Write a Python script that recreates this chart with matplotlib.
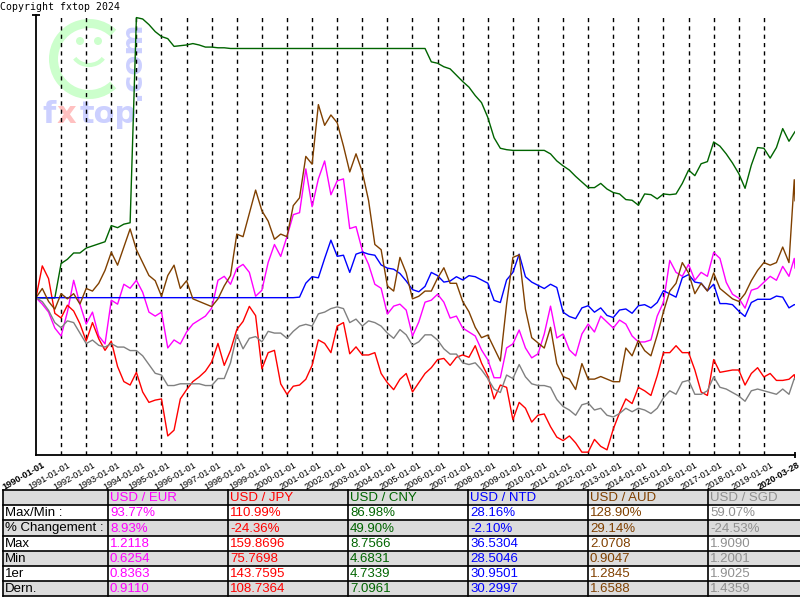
import numpy as np
import matplotlib
matplotlib.use("Agg")
import matplotlib.pyplot as plt
from matplotlib.patches import Rectangle, Arc, Circle

# quarterly points 1990-01-01 .. 2020-01-01, then mid-March 2020 and 2020-03-28
dates = list(np.arange(1990, 2020.01, 0.25)) + [2020.21, 2020.24]

usd_eur = [
    0.8363, 0.820, 0.800, 0.760,
    0.740, 0.800, 0.880, 0.820,
    0.770, 0.800, 0.740, 0.720,
    0.830, 0.820, 0.870, 0.860,
    0.880, 0.850, 0.800, 0.790,
    0.800, 0.710, 0.730, 0.720,
    0.750, 0.770, 0.780, 0.790,
    0.810, 0.880, 0.890, 0.870,
    0.910, 0.920, 0.900, 0.840,
    0.855, 0.925, 0.970, 0.940,
    0.990, 1.045, 1.050, 1.160,
    1.065, 1.135, 1.180, 1.095,
    1.130, 1.135, 1.010, 1.015,
    0.955, 0.920, 0.870, 0.860,
    0.795, 0.815, 0.820, 0.805,
    0.740, 0.775, 0.825, 0.830,
    0.845, 0.825, 0.785, 0.790,
    0.760, 0.750, 0.740, 0.705,
    0.680, 0.635, 0.635, 0.710,
    0.720, 0.755, 0.710, 0.685,
    0.695, 0.745, 0.815, 0.735,
    0.745, 0.705, 0.690, 0.745,
    0.770, 0.750, 0.790, 0.775,
    0.760, 0.780, 0.770, 0.740,
    0.725, 0.725, 0.730, 0.790,
    0.825, 0.930, 0.900, 0.890,
    0.920, 0.880, 0.900, 0.890,
    0.950, 0.935, 0.875, 0.845,
    0.835, 0.810, 0.855, 0.860,
    0.875, 0.890, 0.880, 0.915,
    0.890, 0.935, 0.9110,
]

usd_jpy = [
    143.7595, 157.5, 152.0, 137.0,
    135.0, 140.5, 138.0, 132.5,
    125.0, 133.0, 126.0, 121.0,
    125.0, 114.0, 107.5, 106.0,
    111.5, 103.0, 98.5, 99.5,
    100.0, 84.0, 86.5, 100.0,
    104.0, 107.5, 109.5, 112.0,
    116.0, 124.0, 114.5, 121.0,
    130.0, 133.5, 140.0, 136.0,
    113.0, 120.0, 121.0, 106.5,
    102.0, 105.5, 106.0, 108.5,
    114.5, 125.5, 124.0, 120.0,
    131.5, 133.0, 119.5, 122.5,
    119.0, 119.0, 120.0, 111.0,
    107.0, 104.0, 108.5, 111.0,
    103.0, 107.0, 111.0, 113.5,
    117.0, 117.5, 114.5, 118.0,
    119.0, 118.0, 123.0, 115.5,
    110.0, 100.0, 106.0, 105.0,
    91.0, 98.5, 96.0, 90.0,
    93.0, 93.5, 88.0, 83.5,
    82.0, 84.0, 81.0, 77.0,
    77.0, 82.5, 79.5, 78.0,
    87.0, 94.0, 100.0, 98.0,
    105.0, 103.5, 101.5, 110.0,
    120.0, 120.0, 123.0, 120.0,
    120.0, 112.5, 103.0, 101.5,
    117.0, 111.5, 112.0, 112.5,
    112.5, 106.0, 111.0, 113.5,
    109.5, 111.0, 108.0, 108.0,
    108.5, 110.5, 108.7364,
]

usd_cny = [
    4.7339, 4.73, 4.73, 4.73,
    5.22, 5.28, 5.37, 5.37,
    5.44, 5.47, 5.50, 5.53,
    5.76, 5.73, 5.78, 5.80,
    8.72, 8.70, 8.62, 8.52,
    8.45, 8.42, 8.31, 8.32,
    8.33, 8.35, 8.33, 8.30,
    8.30, 8.29, 8.29, 8.28,
    8.28, 8.28, 8.28, 8.28,
    8.28, 8.28, 8.28, 8.28,
    8.28, 8.28, 8.28, 8.28,
    8.28, 8.28, 8.28, 8.28,
    8.28, 8.28, 8.28, 8.28,
    8.28, 8.28, 8.28, 8.28,
    8.28, 8.28, 8.28, 8.28,
    8.28, 8.28, 8.28, 8.09,
    8.07, 8.02, 7.99, 7.90,
    7.81, 7.73, 7.61, 7.51,
    7.30, 7.01, 6.86, 6.84,
    6.83, 6.83, 6.83, 6.83,
    6.83, 6.83, 6.78, 6.68,
    6.61, 6.55, 6.46, 6.38,
    6.30, 6.30, 6.36, 6.28,
    6.23, 6.21, 6.13, 6.12,
    6.05, 6.21, 6.20, 6.14,
    6.21, 6.20, 6.21, 6.36,
    6.55, 6.47, 6.64, 6.67,
    6.95, 6.89, 6.78, 6.65,
    6.50, 6.29, 6.62, 6.87,
    6.86, 6.72, 6.87, 7.14,
    6.96, 7.08, 7.0961,
]

# no NTD quotes before mid-2000: the chart holds the first value
usd_ntd = [
    30.9501, 30.95, 30.95, 30.95,
    30.95, 30.95, 30.95, 30.95,
    30.95, 30.95, 30.95, 30.95,
    30.95, 30.95, 30.95, 30.95,
    30.95, 30.95, 30.95, 30.95,
    30.95, 30.95, 30.95, 30.95,
    30.95, 30.95, 30.95, 30.95,
    30.95, 30.95, 30.95, 30.95,
    30.95, 30.95, 30.95, 30.95,
    30.95, 30.95, 30.95, 30.95,
    30.95, 30.95, 31.0, 32.3,
    32.9, 32.8, 34.6, 36.3,
    34.8, 34.9, 33.3, 35.0,
    35.2, 35.0, 34.9, 34.0,
    33.7, 33.6, 33.2, 32.5,
    31.7, 31.5, 32.0, 33.3,
    33.0, 32.4, 32.5, 32.9,
    32.6, 33.0, 32.9, 32.6,
    32.3, 30.7, 30.5, 32.6,
    33.3, 35.0, 32.9, 32.4,
    32.1, 31.8, 32.2, 31.9,
    29.6, 29.2, 29.0, 30.0,
    30.2, 29.6, 30.0, 29.3,
    29.1, 29.8, 29.9, 29.5,
    30.2, 30.3, 30.0, 30.5,
    31.6, 31.3, 31.0, 32.8,
    33.1, 32.4, 32.3, 31.6,
    32.2, 30.4, 30.4, 30.3,
    29.7, 29.2, 30.5, 30.8,
    30.8, 30.8, 31.1, 31.0,
    30.0, 30.3, 30.2997,
]

usd_aud = [
    1.2845, 1.32, 1.27, 1.24,
    1.30, 1.28, 1.30, 1.26,
    1.32, 1.31, 1.34, 1.39,
    1.46, 1.41, 1.48, 1.55,
    1.47, 1.42, 1.37, 1.35,
    1.29, 1.37, 1.41, 1.32,
    1.35, 1.28, 1.27, 1.26,
    1.25, 1.28, 1.33, 1.37,
    1.53, 1.52, 1.61, 1.70,
    1.62, 1.58, 1.51, 1.53,
    1.52, 1.64, 1.67, 1.83,
    1.80, 2.03, 1.95, 1.99,
    1.96, 1.87, 1.77, 1.84,
    1.77, 1.66, 1.49, 1.47,
    1.33, 1.31, 1.44, 1.38,
    1.28, 1.29, 1.31, 1.31,
    1.36, 1.40, 1.34, 1.34,
    1.27, 1.23, 1.17, 1.13,
    1.14, 1.09, 1.04, 1.26,
    1.44, 1.45, 1.24, 1.13,
    1.11, 1.09, 1.17, 1.03,
    0.98, 0.97, 0.93, 1.03,
    0.97, 0.97, 0.98, 0.97,
    0.96, 0.96, 1.09, 1.06,
    1.12, 1.08, 1.06, 1.14,
    1.23, 1.31, 1.34, 1.42,
    1.38, 1.30, 1.34, 1.31,
    1.38, 1.32, 1.30, 1.28,
    1.27, 1.30, 1.35, 1.39,
    1.42, 1.41, 1.42, 1.48,
    1.42, 1.74, 1.6588,
]

usd_sgd = [
    1.9025, 1.88, 1.83, 1.76,
    1.73, 1.77, 1.76, 1.70,
    1.64, 1.66, 1.63, 1.62,
    1.64, 1.62, 1.62, 1.60,
    1.60, 1.57, 1.52, 1.47,
    1.46, 1.40, 1.40, 1.41,
    1.41, 1.41, 1.41, 1.40,
    1.40, 1.44, 1.44, 1.53,
    1.69, 1.61, 1.67, 1.68,
    1.65, 1.71, 1.70, 1.70,
    1.67, 1.71, 1.74, 1.75,
    1.74, 1.81, 1.82, 1.84,
    1.85, 1.84, 1.76, 1.78,
    1.74, 1.77, 1.76, 1.74,
    1.70, 1.67, 1.72, 1.69,
    1.63, 1.65, 1.69, 1.69,
    1.66, 1.61, 1.58, 1.58,
    1.53, 1.52, 1.53, 1.49,
    1.44, 1.38, 1.36, 1.46,
    1.44, 1.52, 1.45, 1.41,
    1.40, 1.40, 1.39, 1.32,
    1.28, 1.26, 1.23, 1.29,
    1.30, 1.26, 1.27, 1.23,
    1.22, 1.24, 1.27, 1.25,
    1.27, 1.26, 1.24, 1.27,
    1.33, 1.37, 1.35, 1.42,
    1.43, 1.35, 1.35, 1.37,
    1.45, 1.39, 1.38, 1.36,
    1.34, 1.31, 1.37, 1.38,
    1.37, 1.36, 1.35, 1.38,
    1.35, 1.44, 1.4359,
]

pairs = ["USD / EUR", "USD / JPY", "USD / CNY", "USD / NTD", "USD / AUD", "USD / SGD"]
colors = ["#ff00ff", "#ff0000", "#006400", "#0000ff", "#804000", "#808080"]
text_colors = ["#ff00ff", "#ff0000", "#006400", "#0000ff", "#804000", "#909090"]
max_min_pct = [93.77, 110.99, 86.98, 28.16, 128.90, 59.07]
change_pct = [8.93, -24.36, 49.90, -2.10, 29.14, -24.53]
max_vals = [1.2118, 159.8696, 8.7566, 36.5304, 2.0708, 1.9090]
min_vals = [0.6254, 75.7698, 4.6831, 28.5046, 0.9047, 1.2001]
first_vals = [0.8363, 143.7595, 4.7339, 30.9501, 1.2845, 1.9025]
last_vals = [0.9110, 108.7364, 7.0961, 30.2997, 1.6588, 1.4359]

series = [usd_eur, usd_jpy, usd_cny, usd_ntd, usd_aud, usd_sgd]
years = list(range(1990, 2020))
tick_labels = [f"{y}-01-01" for y in years] + ["2020-03-28"]

fig = plt.figure(figsize=(8, 6), dpi=100)

# background layer: watermark, copyright and the stats table (pixel coords)
bg = fig.add_axes([0, 0, 1, 1], zorder=0)
bg.set_xlim(0, 800)
bg.set_ylim(600, 0)
bg.axis("off")

green_wm = "#ccffcc"
blue_wm = "#ccd0ff"
bg.add_patch(Arc((89, 59), 71, 71, theta1=47, theta2=313, color=green_wm, lw=6.5))
bg.add_patch(Circle((80, 41), 4, color=green_wm, lw=0))
bg.add_patch(Circle((98, 41), 4, color=green_wm, lw=0))
bg.add_patch(Arc((89, 50), 34, 30, theta1=30, theta2=150, color=green_wm, lw=3))
bg.text(42, 123, "f", fontsize=22, fontweight="bold", color=blue_wm, family="DejaVu Sans")
bg.text(57, 123, "x", fontsize=22, fontweight="bold", color="#ffc0c0", family="DejaVu Sans")
bg.text(80, 123, "top", fontsize=22, fontweight="bold", color=blue_wm, family="DejaVu Sans")
bg.text(132, 100, ".com", fontsize=21, fontweight="bold", color=blue_wm, family="DejaVu Sans",
        rotation=90, rotation_mode="anchor", ha="left", va="center")
bg.text(0, 10, "Copyright fxtop 2024", fontsize=7.1, family="DejaVu Sans Mono", va="baseline")

# table
row_labels = ["", "Max/Min :", "% Changement :", "Max", "Min", "1er", "Dern."]
col_x = [3, 108, 228, 348, 468, 588, 708, 800]
top, rh = 490, 15.2
for i in range(7):
    fc = "#dcdcdc" if i % 2 == 0 else "white"
    bg.add_patch(Rectangle((3, top + i * rh), 797, rh, facecolor=fc, edgecolor="none"))
for i in range(8):
    bg.plot([3, 800], [top + i * rh] * 2, color="black", lw=1.2)
for x in col_x[:-1]:
    bg.plot([x, x], [top, top + 7 * rh], color="black", lw=1.2)

tfont = dict(fontsize=9.5, family="Liberation Sans", va="center")
for i, lab in enumerate(row_labels):
    bg.text(5, top + (i + 0.5) * rh + 0.5, lab, color="black", **tfont)
for j in range(6):
    cells = [pairs[j], f"{max_min_pct[j]:.2f}%", f"{change_pct[j]:.2f}%",
             f"{max_vals[j]:.4f}", f"{min_vals[j]:.4f}", f"{first_vals[j]:.4f}", f"{last_vals[j]:.4f}"]
    for i, c in enumerate(cells):
        bg.text(col_x[j + 1] + 2, top + (i + 0.5) * rh + 0.5, c, color=text_colors[j], **tfont)

# chart
ax = fig.add_axes([36 / 800, 1 - 455 / 600, 759 / 800, 440 / 600], zorder=1)
ax.patch.set_alpha(0)

for vals, first, col in zip(series, first_vals, colors):
    ax.plot(dates, np.array(vals) / first, color=col, lw=1.0)

ymax = max(m / f for m, f in zip(max_vals, first_vals))
ymin = min(m / f for m, f in zip(min_vals, first_vals))
ax.set_ylim(ymin, ymax)
ax.set_xlim(1990, dates[-1])

for y in years[1:]:
    ax.axvline(y, color="black", lw=1.0, ls=(0, (3, 3)), zorder=0)

for s in ["top", "right"]:
    ax.spines[s].set_visible(False)
ax.spines["left"].set_linewidth(1.3)
ax.spines["bottom"].set_linewidth(1.3)
ax.set_yticks([ymax])
ax.set_yticklabels([])
ax.tick_params(axis="y", direction="inout", length=6, width=1.3)
ax.set_xticks([dates[-1]])
ax.set_xticklabels([])
ax.tick_params(axis="x", direction="inout", length=5, width=1.3)

tick_pos = years + [dates[-1]]
for k, (xp, lab) in enumerate(zip(tick_pos, tick_labels)):
    last = k == len(tick_pos) - 1
    bold = k == 0 or last
    ax.text(xp + (0.08 if last else 0.25), -0.012, lab, transform=ax.get_xaxis_transform(),
            rotation=30, rotation_mode="anchor", ha="right", va="top",
            fontsize=6.6, family="Liberation Sans",
            fontweight="bold" if bold else "normal")

fig.savefig("out.png", dpi=100)
